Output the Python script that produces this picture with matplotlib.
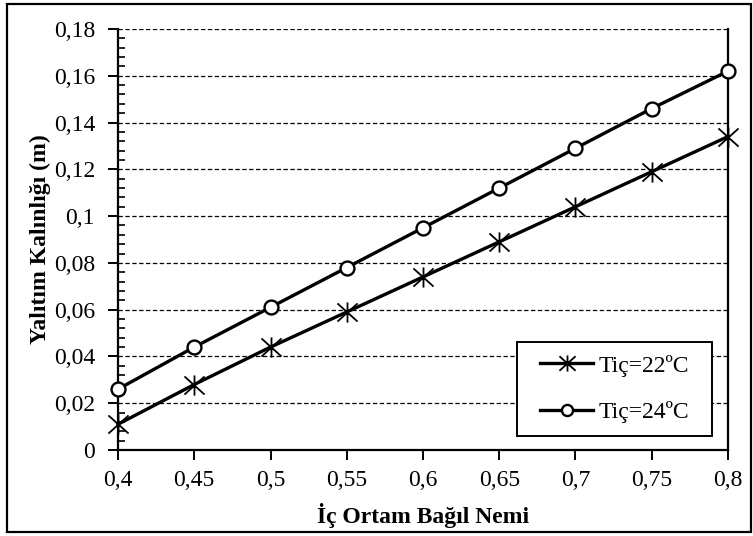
import matplotlib
matplotlib.use("Agg")
import matplotlib.pyplot as plt
from matplotlib.path import Path
from matplotlib.patches import Rectangle
from matplotlib.ticker import MultipleLocator

plt.rcParams['font.family'] = ['Liberation Serif', 'DejaVu Serif']

# Data
humidity = [0.4, 0.45, 0.5, 0.55, 0.6, 0.65, 0.7, 0.75, 0.8]
t22 = [0.011, 0.028, 0.044, 0.059, 0.074, 0.089, 0.104, 0.119, 0.134]
t24 = [0.026, 0.044, 0.061, 0.078, 0.095, 0.112, 0.129, 0.146, 0.162]
series_labels = ["Tiç=22ºC", "Tiç=24ºC"]
xticks = [0.4, 0.45, 0.5, 0.55, 0.6, 0.65, 0.7, 0.75, 0.8]
xtick_labels = ["0,4", "0,45", "0,5", "0,55", "0,6", "0,65", "0,7", "0,75", "0,8"]
yticks = [0, 0.02, 0.04, 0.06, 0.08, 0.1, 0.12, 0.14, 0.16, 0.18]
ytick_labels = ["0", "0,02", "0,04", "0,06", "0,08", "0,1", "0,12", "0,14", "0,16", "0,18"]
xlabel = "İç Ortam Bağıl Nemi"
ylabel = "Yalıtım Kalınlığı (m)"

# Excel-like star marker: X plus vertical line
star = Path([(-1, -0.9), (1, 0.9), (-1, 0.9), (1, -0.9), (0, -1.0), (0, 1.0)],
            [Path.MOVETO, Path.LINETO, Path.MOVETO, Path.LINETO, Path.MOVETO, Path.LINETO])

fig = plt.figure(figsize=(7.53, 5.36), dpi=100)
ax = fig.add_axes([118/753, 86/536, (728-118)/753, (450-29)/536])

ax.plot(humidity, t22, color='black', lw=2.4, marker=star, markersize=14.5,
        markeredgewidth=1.3, markeredgecolor='black', label=series_labels[0], zorder=3,
        clip_on=False)
ax.plot(humidity, t24, color='black', lw=2.4, marker='o', markersize=10,
        markerfacecolor='white', markeredgewidth=1.7, markeredgecolor='black',
        label=series_labels[1], zorder=3, clip_on=False)

ax.set_xlim(0.4, 0.8)
ax.set_ylim(0, 0.18)
ax.set_xticks(xticks)
ax.set_xticklabels(xtick_labels)
ax.set_yticks(yticks)
ax.set_yticklabels(ytick_labels)
ax.yaxis.set_minor_locator(MultipleLocator(0.004))

ax.grid(axis='y', which='major', color='black', linestyle=(0, (3.5, 2)), linewidth=0.9)
ax.set_axisbelow(True)

ax.spines['top'].set_visible(False)
for s in ['left', 'bottom', 'right']:
    ax.spines[s].set_linewidth(1.6)

ax.tick_params(axis='both', which='major', labelsize=17, width=1.4, length=7, direction='out')
ax.tick_params(axis='y', which='major', pad=9.5)
ax.tick_params(axis='x', which='major', pad=7.5)
ax.tick_params(axis='y', which='minor', direction='in', length=5, width=1.2)

ax.set_xlabel(xlabel, fontsize=17, fontweight='bold')
ax.set_ylabel(ylabel, fontsize=17, fontweight='bold')
ax.xaxis.set_label_coords(0.5, -65/421)
ax.xaxis.label.set_verticalalignment('center')
ax.yaxis.set_label_coords(-78/610, 0.5)
ax.yaxis.label.set_verticalalignment('center')

# Legend box (white, black edge) and legend entries
ax.add_patch(Rectangle(((517-118)/610, 14/421), (712-517)/610, (436-342)/421,
                       transform=ax.transAxes, facecolor='white', edgecolor='black',
                       linewidth=1.4, zorder=4, clip_on=False))
leg = ax.legend(loc='center', bbox_to_anchor=(((517+712)/2-118)/610, (450-389)/421),
                fontsize=17, frameon=False, handlelength=2.25, borderpad=0.2,
                labelspacing=1.05, handletextpad=0.2, markerscale=0.8)
leg.set_zorder(5)

# Figure border
fig.patches.append(Rectangle((7/753, 4/536), (751-7)/753, (532-4)/536, transform=fig.transFigure,
                             fill=False, edgecolor='black', linewidth=1.6))

fig.savefig("out.png", dpi=100)
